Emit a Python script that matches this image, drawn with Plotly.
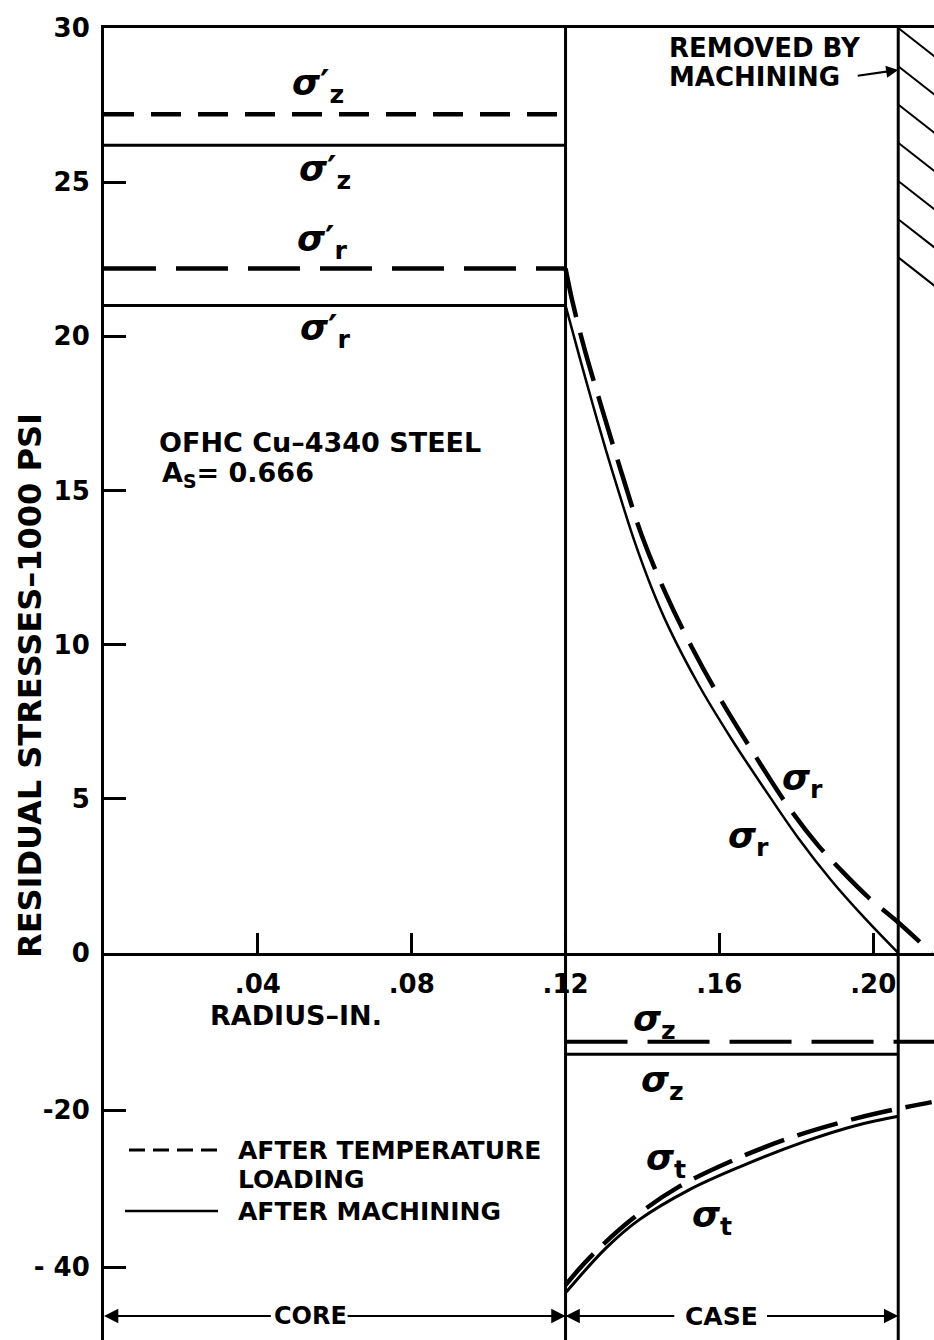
import plotly.graph_objects as go

# ---------------- data (stresses in 1000 psi, radius in inches) ----------------
CORE_R = 0.12          # core / case boundary
MACHINED_R = 0.2065    # outer radius after machining
X_MAX = 0.2158

x_tickvals = [0.04, 0.08, 0.12, 0.16, 0.20]
x_ticktext = [".04", ".08", ".12", ".16", ".20"]
y_up_tickvals = [0, 5, 10, 15, 20, 25, 30]
y_up_ticktext = ["0", "5", "10", "15", "20", "25", "30"]
y_lo_tickvals = [-20, -40]
y_lo_ticktext = ["-20", "- 40"]

# core (constant) stresses
core_x = [0.0, CORE_R]
sz_core_temp = [27.2, 27.2]
sz_core_mach = [26.2, 26.2]
sr_core_temp = [22.2, 22.2]
sr_core_mach = [21.0, 21.0]

# case: radial stress sigma_r
sr_mach_x = [0.1200, 0.1235, 0.1269, 0.1305, 0.1339, 0.1378, 0.1424, 0.1468,
             0.1546, 0.1631, 0.1719, 0.1805, 0.1890, 0.1978, 0.2065]
sr_mach_y = [21.0, 19.39, 17.87, 16.31, 14.92, 13.40, 11.84, 10.57,
             8.70, 6.95, 5.29, 3.73, 2.37, 1.13, 0.0]
sr_temp_x = [0.1200, 0.1217, 0.1248, 0.1292, 0.1346, 0.1398, 0.1460, 0.1527,
             0.1602, 0.1693, 0.1779, 0.1856, 0.1916, 0.1986, 0.2058, 0.2152]
sr_temp_y = [22.2, 21.18, 19.65, 17.77, 15.56, 13.55, 11.67, 9.95,
             8.25, 6.40, 4.75, 3.50, 2.69, 1.82, 1.07, 0.0]

# case: axial stress sigma_z
sz_case_temp_x = [CORE_R, X_MAX]
sz_case_temp_y = [-11.3, -11.3]
sz_case_mach_x = [CORE_R, MACHINED_R]
sz_case_mach_y = [-12.9, -12.9]

# case: tangential stress sigma_t
st_mach_x = [0.1200, 0.1305, 0.1391, 0.1520, 0.1650, 0.1823, 0.1953, 0.2065]
st_mach_y = [-43.3, -37.6, -34.0, -30.2, -27.3, -24.0, -22.0, -20.8]
st_temp_x = [0.1200, 0.1261, 0.1373, 0.1494, 0.1650, 0.1805, 0.1953, 0.2059, 0.2152]
st_temp_y = [-42.3, -38.9, -33.9, -29.8, -26.1, -23.2, -21.1, -19.9, -19.0]

# ---------------- layout helpers ----------------
W, H = 934, 1340
ML, MT = 104, 28
PW, PH = W - ML, H - MT
ZERO_PX = 953
LOWER_FRAC = (H - ZERO_PX) / PH


def px(xp):
    return (xp - ML) / PW


def py(yp):
    return (H - yp) / PH


BLACK = "black"
FONT = "DejaVu Sans"
SOLID_W = 3
DASH_W = 4.5

fig = go.Figure()


def add_line(x, y, axis, dash=None, width=SOLID_W):
    fig.add_trace(go.Scatter(
        x=x, y=y, mode="lines", xaxis="x", yaxis=axis,
        line=dict(color=BLACK, width=width, dash=dash,
                  shape="spline" if len(x) > 2 else "linear", smoothing=1.0),
        hoverinfo="skip", showlegend=False))


# upper (positive) part
add_line(core_x, sz_core_temp, "y", dash="30px,17px", width=DASH_W)
add_line(core_x, sz_core_mach, "y")
add_line(core_x, sr_core_temp, "y", dash="52px,20px", width=DASH_W)
add_line(core_x, sr_core_mach, "y")
add_line(sr_mach_x, sr_mach_y, "y", width=2.5)
add_line(sr_temp_x, sr_temp_y, "y", dash="50px,16px", width=DASH_W)
# lower (negative) part
add_line(sz_case_temp_x, sz_case_temp_y, "y2", dash="62px,20px", width=DASH_W - 0.5)
add_line(sz_case_mach_x, sz_case_mach_y, "y2")
add_line(st_mach_x, st_mach_y, "y2")
add_line(st_temp_x, st_temp_y, "y2", dash="42px,14px", width=DASH_W)

shapes = []
# core / case boundary and machined surface
for xv in (CORE_R, MACHINED_R):
    shapes.append(dict(type="line", xref="x", yref="paper", x0=xv, x1=xv, y0=0, y1=1,
                       line=dict(color=BLACK, width=3)))
# hatching of the removed material
HATCH_DX = 0.012
for k in range(7):
    y0 = 30 - 1.24 * k
    shapes.append(dict(type="line", xref="x", yref="y", x0=MACHINED_R, x1=MACHINED_R + HATCH_DX,
                       y0=y0, y1=y0 - 1.17, line=dict(color=BLACK, width=2)))
# legend line samples
shapes.append(dict(type="line", xref="paper", yref="paper", x0=px(129), x1=px(218),
                   y0=py(1150), y1=py(1150), line=dict(color=BLACK, width=3, dash="16px,8px")))
shapes.append(dict(type="line", xref="paper", yref="paper", x0=px(125), x1=px(218),
                   y0=py(1211), y1=py(1211), line=dict(color=BLACK, width=2.5)))

TXT = dict(family=FONT, size=25, color=BLACK, weight="bold")
SIG = dict(family=FONT, size=36, color=BLACK, weight="bold")

annotations = []


def text(xp, yp, s, anchor="left", size=25):
    annotations.append(dict(xref="paper", yref="paper", x=px(xp), y=py(yp), text=s,
                            showarrow=False, xanchor=anchor, yanchor="middle",
                            font=dict(TXT, size=size)))


def sigma(xp, yp, sub, prime=False):
    s = "<i>σ</i>" + ("′" if prime else "") + "<sub>" + sub + "</sub>"
    annotations.append(dict(xref="paper", yref="paper", x=px(xp), y=py(yp), text=s,
                            showarrow=False, xanchor="center", yanchor="middle", font=SIG))


# sigma labels
sigma(318, 86, "z", True)
sigma(325, 172, "z", True)
sigma(322, 241, "r", True)
sigma(325, 330, "r", True)
sigma(802, 780, "r")
sigma(748, 838, "r")
sigma(654, 1022, "z")
sigma(662, 1082, "z")
sigma(666, 1160, "t")
sigma(712, 1217, "t")

# texts
text(157, 442, "OFHC Cu–4340 STEEL", size=27)
text(160, 474, "A<sub>S</sub>= 0.666", size=27)
text(667, 48, "REMOVED BY", size=26)
text(667, 77, "MACHINING", size=26)
text(236, 1150, "AFTER TEMPERATURE", size=25)
text(236, 1179, "LOADING", size=25)
text(236, 1211, "AFTER MACHINING", size=25)
text(296, 1015, "RADIUS–IN.", anchor="center", size=27)
text(310, 1316, "CORE", anchor="center", size=24)
text(721, 1316, "CASE", anchor="center", size=25)
annotations.append(dict(xref="paper", yref="paper", x=px(30), y=py(686),
                        text="RESIDUAL STRESSES–1000 PSI", textangle=-90, showarrow=False,
                        xanchor="center", yanchor="middle", font=dict(TXT, size=32)))


def arrow(x_head, x_tail, yp):
    annotations.append(dict(xref="x", yref="paper", axref="x", ayref="pixel",
                            x=x_head, y=py(yp), ax=x_tail, ay=0, text="", showarrow=True,
                            arrowhead=2, arrowsize=1.3, arrowwidth=2.2, arrowcolor=BLACK,
                            standoff=0, startstandoff=0))


arrow(0.0, (272 - 103) * 0.000259, 1316)
arrow(CORE_R, (346 - 103) * 0.000259, 1316)
arrow(CORE_R, (677 - 103) * 0.000259, 1316)
arrow(MACHINED_R, (767 - 103) * 0.000259, 1316)
# "removed by machining" pointer
annotations.append(dict(xref="x", yref="paper", x=MACHINED_R, y=py(70), ax=-42, ay=6,
                        text="", showarrow=True, arrowhead=2, arrowsize=1.1, arrowwidth=2.2,
                        arrowcolor=BLACK, standoff=0))

axis_common = dict(showgrid=False, zeroline=False, showline=True, linecolor=BLACK, linewidth=3,
                   ticks="inside", tickcolor=BLACK, tickwidth=3, automargin=False)
TICKFONT = dict(family=FONT, size=26, color=BLACK, weight="bold")

fig.update_layout(
    width=W, height=H, autosize=False, margin=dict(l=ML, r=0, t=MT, b=0, pad=0, autoexpand=False),
    paper_bgcolor="white", plot_bgcolor="white", showlegend=False,
    font=dict(family=FONT, color=BLACK),
    xaxis=dict(axis_common, range=[0, X_MAX], anchor="y", mirror=True,
               tickvals=x_tickvals, ticktext=x_ticktext, ticklen=20,
               tickfont=TICKFONT, ticklabelstandoff=6),
    yaxis=dict(axis_common, domain=[LOWER_FRAC, 1], range=[0, 30], anchor="x",
               tickvals=y_up_tickvals, ticktext=y_up_ticktext, ticklen=22,
               tickfont=TICKFONT, ticklabelstandoff=6),
    yaxis2=dict(axis_common, domain=[0, LOWER_FRAC], range=[-49.3, 0], anchor="x",
                tickvals=y_lo_tickvals, ticktext=y_lo_ticktext, ticklen=22,
                tickfont=TICKFONT, ticklabelstandoff=6),
    shapes=shapes, annotations=annotations,
)

fig.write_html("out.html")
